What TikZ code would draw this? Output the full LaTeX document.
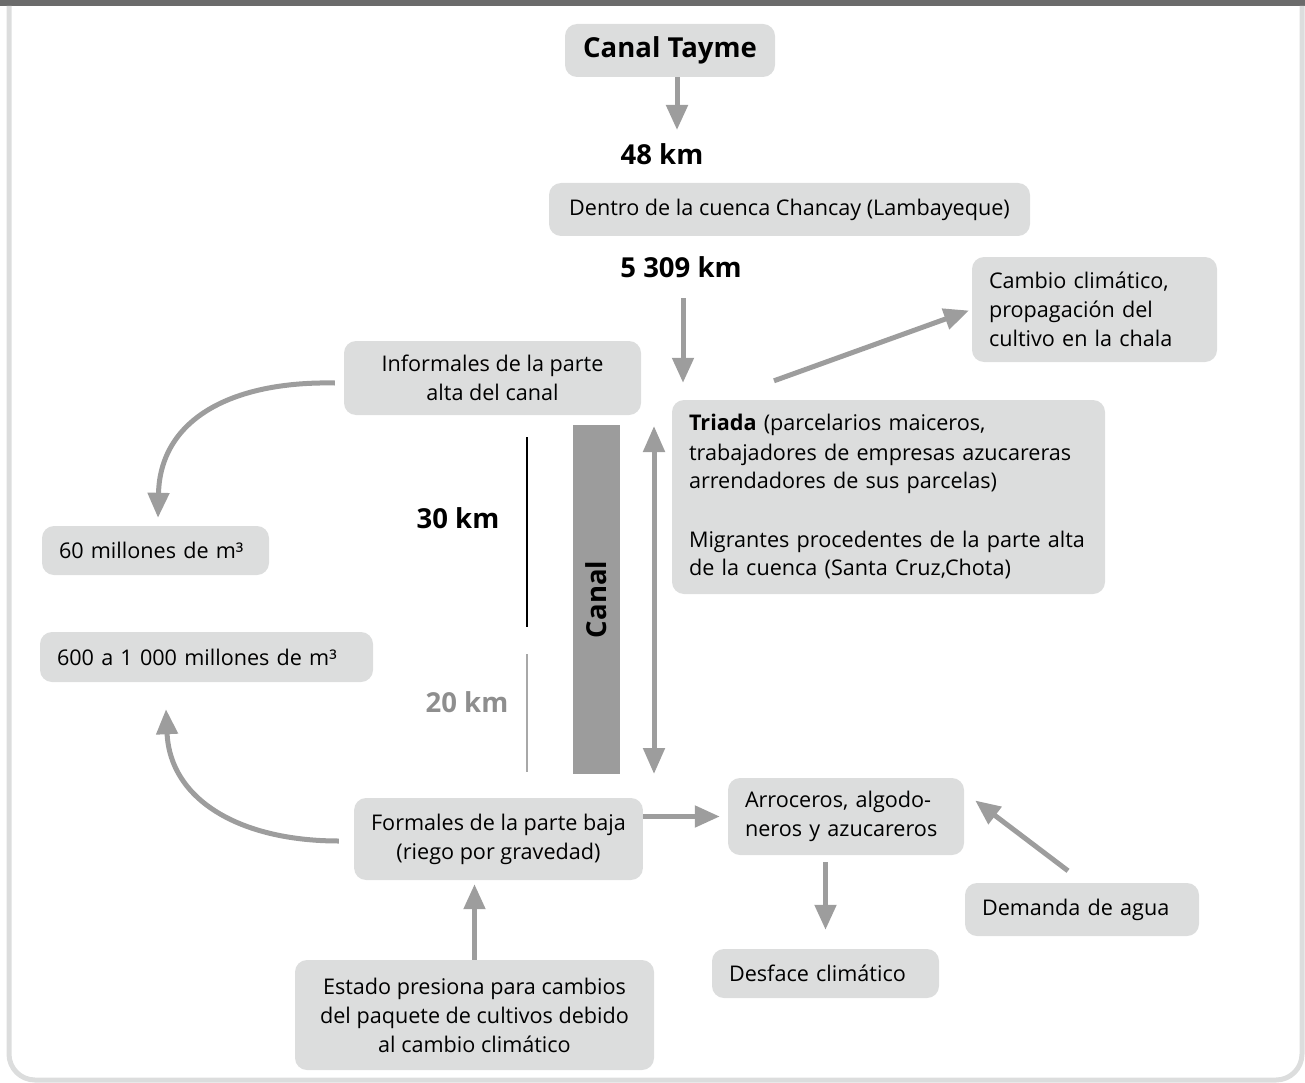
\documentclass[tikz,border=0pt]{standalone}
\usepackage{fontspec}
\setmainfont{Open Sans}
\usetikzlibrary{arrows.meta,calc}
\definecolor{boxgray}{HTML}{DCDDDD}
\definecolor{arrowgray}{HTML}{9D9D9D}
\definecolor{framedark}{HTML}{6B6B6B}
\definecolor{framelight}{HTML}{DCDDDD}
\definecolor{canalgray}{HTML}{9C9C9C}
\definecolor{labelgray}{HTML}{8E8E8E}
\definecolor{scalegray}{HTML}{A8A8A8}
\begin{document}
\begin{tikzpicture}[x=1pt,y=-1pt,
  box/.style={fill=boxgray, rounded corners=12pt, inner xsep=17pt, inner ysep=4pt,
              font=\fontsize{21.6}{29}\selectfont},
  lbox/.style={box, align=left},
  cbox/.style={box, align=center},
  kmlabel/.style={font=\fontsize{27.5}{31}\selectfont\bfseries, inner sep=0pt},
  arr/.style={draw=arrowgray, line width=5pt, -{Triangle[width=21pt,length=25pt]}},
  darr/.style={draw=arrowgray, line width=5pt,
               {Triangle[width=21pt,length=26pt]}-{Triangle[width=21pt,length=26pt]}},
]
\useasboundingbox (0,0) rectangle (1305,1083);

% frame
\fill[framedark] (0,0) rectangle (1305,6);
\draw[framelight, line width=5pt, rounded corners=26pt] (9,6) -- (9,1080) -- (1302,1080) -- (1302,6);

% top of the scheme
\node[cbox, font=\fontsize{27.5}{31}\selectfont\bfseries, minimum width=210pt, minimum height=53pt]
  (tayme) at (670,50.5) {Canal Tayme};
\node[kmlabel] (km48) at (662,154) {48 km};
\node[cbox, minimum width=481pt, minimum height=53pt]
  (dentro) at (789.5,209.5) {Dentro de la cuenca Chancay (Lambayeque)};
\node[kmlabel] (km5309) at (681,267) {5 309 km};

\node[lbox, text width=211pt, minimum height=105pt]
  (cambio) at (1094.5,309.5) {\mbox{Cambio climático,}\\\mbox{propagación del}\\\mbox{cultivo en la chala}};
\node[cbox, minimum width=297pt, minimum height=74pt]
  (informales) at (492.5,378) {Informales de la parte\\alta del canal};

\node[lbox, text width=193pt, minimum height=49pt]
  (m60) at (155.5,550.5) {\mbox{60 millones de m³}};
\node[lbox, text width=299pt, minimum height=50pt]
  (m600) at (206.5,657) {\mbox{600 a 1 000 millones de m³}};

\node[lbox, text width=399pt, minimum height=194pt] (triada) at (888.5,497)
  {\mbox{\textbf{Triada} (parcelarios maiceros,}\\
   \mbox{trabajadores de empresas azucareras}\\
   \mbox{arrendadores de sus parcelas)}\\[29pt]
   \mbox{Migrantes procedentes de la parte alta}\\
   \mbox{de la cuenca (Santa Cruz,Chota)}};

% canal and distances
\node[fill=canalgray, rotate=90, minimum width=349pt, minimum height=47pt, inner sep=0pt,
      font=\fontsize{27.5}{31}\selectfont\bfseries] (canal) at (596.5,599.5) {Canal};
\coordinate (s30a) at (527,437);
\coordinate (s30b) at (527,627);
\coordinate (s20a) at (527,654);
\coordinate (s20b) at (527,772);
\draw[line width=2pt] (s30a) -- (s30b);
\draw[scalegray, line width=2pt] (s20a) -- (s20b);
\node[kmlabel] (km30) at (458,518) {30 km};
\node[kmlabel, text=labelgray] (km20) at (467,702) {20 km};
\coordinate (dtop) at (654,426);
\coordinate (dbot) at (654,774);
\draw[darr] (dtop) -- (dbot);

% lower part
\node[cbox, minimum width=285pt, minimum height=82pt]
  (formales) at (498.5,839) {Formales de la parte baja\\(riego por gravedad)};
\node[lbox, text width=202pt, minimum height=77pt]
  (arroceros) at (846,816.5) {\mbox{Arroceros, algodo-}\\\mbox{neros y azucareros}};
\node[lbox, text width=193pt, minimum height=49pt]
  (desface) at (825.5,973.5) {\mbox{Desface climático}};
\node[lbox, text width=200pt, minimum height=53pt]
  (demanda) at (1082,909.5) {\mbox{Demanda de agua}};
\node[cbox, minimum width=359pt, minimum height=110pt]
  (estado) at (474.5,1015) {Estado presiona para cambios\\del paquete de cultivos debido\\al cambio climático};

% connectors
\coordinate (a1) at (677,130);
\draw[arr] (tayme.south -| a1) -- (a1);
\coordinate (a2) at (683,298);
\draw[arr, shorten >=17pt] (a2) -- (a2 |- triada.north);
\draw[arr, shorten >=3pt] ($(triada.north)+(-114.5,-19)$) -- (cambio.west);
\draw[arr] ($(informales.west)+(-9,5)$) .. controls (230,381) and (160,420) .. ($(m60.north)+(2.5,-8)$);
\draw[arr] ($(formales.west)+(-15,2)$) .. controls (240,841) and (170,800) .. ($(m600.south)+(-40.5,27)$);
\draw[arr, shorten >=8pt] (formales.east |- arroceros.west) -- (arroceros.west);
\draw[arr, shorten <=7pt, shorten >=19pt] (desface.north |- arroceros.south) -- (desface.north);
\draw[arr] ($(demanda.north)+(-14,-12)$) -- ($(arroceros.east)+(11,-16)$);
\draw[arr, shorten >=4pt] (estado.north) -- (estado.north |- formales.south);
\end{tikzpicture}
\end{document}
